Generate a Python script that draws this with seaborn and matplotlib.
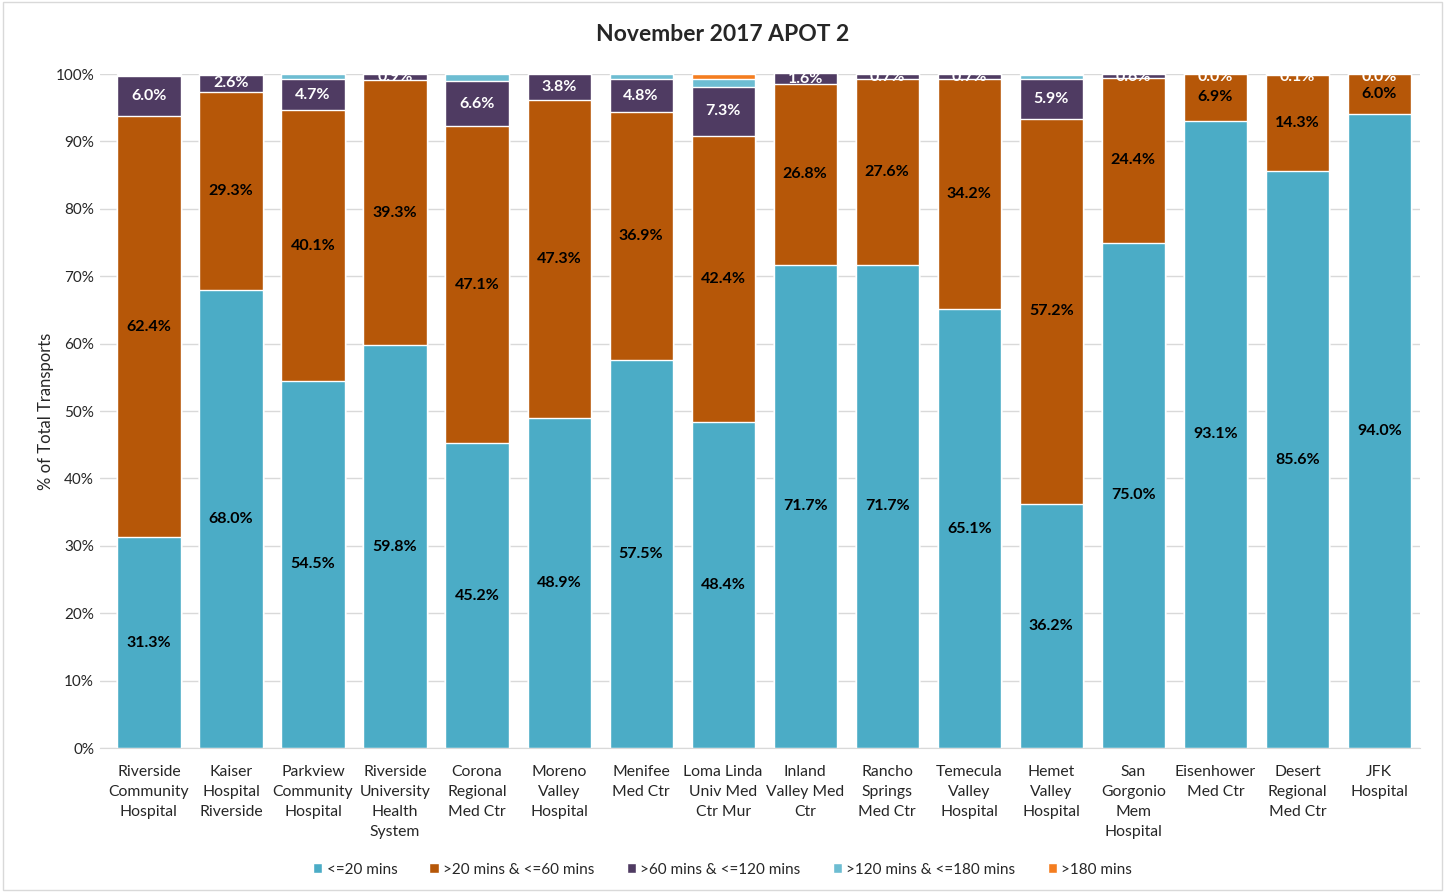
import numpy as np
import pandas as pd
import matplotlib.pyplot as plt
import seaborn as sns
from matplotlib.patches import Patch

# hospitals and percentage of transports in each offload-time band
hospitals = ["Riverside\nCommunity\nHospital", "Kaiser\nHospital\nRiverside", "Parkview\nCommunity\nHospital",
             "Riverside\nUniversity\nHealth\nSystem", "Corona\nRegional\nMed Ctr", "Moreno\nValley\nHospital",
             "Menifee\nMed Ctr", "Loma Linda\nUniv Med\nCtr Mur", "Inland\nValley Med\nCtr",
             "Rancho\nSprings\nMed Ctr", "Temecula\nValley\nHospital", "Hemet\nValley\nHospital",
             "San\nGorgonio\nMem\nHospital", "Eisenhower\nMed Ctr", "Desert\nRegional\nMed Ctr", "JFK\nHospital"]
le_20 = [31.3, 68.0, 54.5, 59.8, 45.2, 48.9, 57.5, 48.4, 71.7, 71.7, 65.1, 36.2, 75.0, 93.1, 85.6, 94.0]
m20_60 = [62.4, 29.3, 40.1, 39.3, 47.1, 47.3, 36.9, 42.4, 26.8, 27.6, 34.2, 57.2, 24.4, 6.9, 14.3, 6.0]
m60_120 = [6.0, 2.6, 4.7, 0.9, 6.6, 3.8, 4.8, 7.3, 1.6, 0.7, 0.7, 5.9, 0.6, 0.0, 0.1, 0.0]
m120_180 = [0.2, 0.1, 0.7, 0.0, 1.1, 0.0, 0.8, 1.2, 0.0, 0.0, 0.0, 0.6, 0.0, 0.0, 0.0, 0.0]
gt_180 = [0.1, 0.0, 0.0, 0.0, 0.0, 0.0, 0.0, 0.7, 0.0, 0.0, 0.0, 0.1, 0.0, 0.0, 0.0, 0.0]

series = ["<=20 mins", ">20 mins & <=60 mins", ">60 mins & <=120 mins", ">120 mins & <=180 mins", ">180 mins"]
colors = ["#4BACC6", "#B65708", "#4F3B62", "#6DBDD2", "#F47D20"]
values = [le_20, m20_60, m60_120, m120_180, gt_180]

df = pd.DataFrame({"Hospital": hospitals})
for name, vals in zip(series, values):
    df[name] = vals
cum = df[series].cumsum(axis=1)

sns.set_style("white")
plt.rcParams["font.family"] = ["Lato", "DejaVu Sans"]

fig = plt.figure(figsize=(14.45, 8.92), dpi=100)
ax = fig.add_axes([0.069, 0.1614, 0.914, 0.7556])

# draw cumulative totals from the top band down so each band shows its own segment
for name, color in zip(series[::-1], colors[::-1]):
    tmp = pd.DataFrame({"Hospital": hospitals, "top": cum[name]})
    sns.barplot(data=tmp, x="Hospital", y="top", color=color, width=0.77,
                saturation=1, ax=ax, zorder=2)

# data labels for the first three bands
for i in range(len(hospitals)):
    for j, txtcol in zip(range(3), ["black", "black", "white"]):
        v = values[j][i]
        base = cum[series[j - 1]].iloc[i] if j > 0 else 0
        if j == 2 and base + v / 2 > 99.6:
            yc = 99.6
        else:
            yc = base + v / 2
        ax.text(i, yc, f"{v:.1f}%", ha="center", va="center", fontsize=11.5,
                fontweight="bold", color=txtcol, zorder=5)

ax.set_ylim(0, 100)
ax.set_xlim(-0.6, len(hospitals) - 0.5)
ax.set_yticks(np.arange(0, 101, 10))
ax.set_yticklabels([f"{t}%" for t in range(0, 101, 10)], fontsize=11)
ax.set_xticks(range(len(hospitals)))
ax.set_xticklabels(hospitals, fontsize=11.3, linespacing=1.55, va="top")
ax.tick_params(axis="x", length=0, pad=12)
ax.tick_params(axis="y", length=0, pad=4)
ax.yaxis.grid(True, color="#D9D9D9", linewidth=1, zorder=0)
ax.set_axisbelow(True)
for s in ["top", "right", "left"]:
    ax.spines[s].set_visible(False)
ax.spines["bottom"].set_color("#D9D9D9")
ax.set_xlabel("")
ax.set_ylabel("% of Total Transports", fontsize=12, labelpad=1)
fig.suptitle("November 2017 APOT 2", x=0.5, y=0.961, va="center", fontsize=16.5, fontweight="bold")

handles = [Patch(facecolor=c, label=s) for s, c in zip(series, colors)]
fig.legend(handles=handles, loc="center", bbox_to_anchor=(0.5, 0.025), ncol=5,
           frameon=False, fontsize=11, handlelength=0.6, handleheight=0.6,
           handletextpad=0.3, columnspacing=2.1)

fig.patches.append(plt.Rectangle((0.002, 0.002), 0.996, 0.996, transform=fig.transFigure,
                                 fill=False, edgecolor="#D9D9D9", linewidth=1))
fig.savefig("out.png", dpi=100)
